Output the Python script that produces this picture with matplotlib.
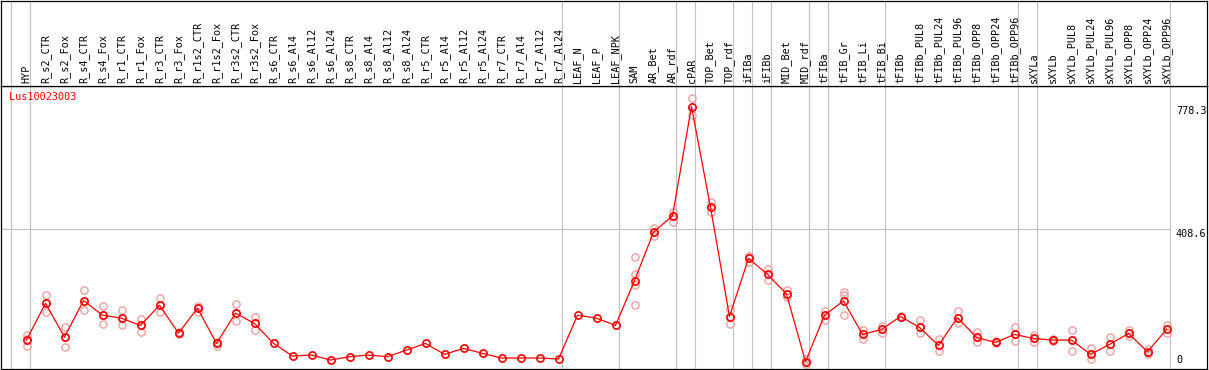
import matplotlib
matplotlib.use("Agg")
import matplotlib.pyplot as plt

# ---------------- data ----------------
categories = ["HYP", "R_s2_CTR", "R_s2_Fox", "R_s4_CTR", "R_s4_Fox", "R_r1_CTR", "R_r1_Fox",
              "R_r3_CTR", "R_r3_Fox", "R_r1s2_CTR", "R_r1s2_Fox", "R_r3s2_CTR", "R_r3s2_Fox",
              "R_s6_CTR", "R_s6_Al4", "R_s6_Al12", "R_s6_Al24", "R_s8_CTR", "R_s8_Al4",
              "R_s8_Al12", "R_s8_Al24", "R_r5_CTR", "R_r5_Al4", "R_r5_Al12", "R_r5_Al24",
              "R_r7_CTR", "R_r7_Al4", "R_r7_Al12", "R_r7_Al24", "LEAF_N", "LEAF_P", "LEAF_NPK",
              "SAM", "AR_Bet", "AR_rdf", "cPAR", "TOP_Bet", "TOP_rdf", "iFIBa", "iFIBb",
              "MID_Bet", "MID_rdf", "tFIBa", "tFIB_Gr", "tFIB_Li", "tFIB_Bi", "tFIBb",
              "tFIBb_PUL8", "tFIBb_PUL24", "tFIBb_PUL96", "tFIBb_OPP8", "tFIBb_OPP24",
              "tFIBb_OPP96", "sXYLa", "sXYLb", "sXYLb_PUL8", "sXYLb_PUL24", "sXYLb_PUL96",
              "sXYLb_OPP8", "sXYLb_OPP24", "sXYLb_OPP96"]

means = [75, 186, 84, 194, 150, 141, 119, 180, 96, 171, 65, 156, 125,
         65, 27, 30, 15, 25, 30, 25, 45,
         65, 32, 50, 35, 21, 21, 21, 18,
         150, 141, 119,
         254, 400, 449, 778.3, 475, 146,
         321, 273, 214, 10,
         150, 193, 92, 107, 146, 113, 59, 143, 83, 68, 92,
         80, 75, 75, 32, 62, 95, 40, 107]

replicates = [[90, 78, 57], [211, 186, 161], [113, 83, 55], [226, 194, 167], [178, 150, 122],
              [166, 141, 119], [139, 119, 98], [202, 180, 159], [98, 96, 94], [178, 171, 161],
              [70, 65, 57], [184, 156, 131], [146, 125, 104],
              [], [], [], [], [], [], [], [], [], [], [], [], [], [], [], [], [], [], [],
              [324, 274, 241, 181], [412, 400, 388], [461, 449, 432], [803, 778, 754],
              [491, 475, 462], [169, 146, 122], [328, 321, 311], [289, 273, 256],
              [226, 214, 204], [17, 10, 3], [164, 150, 136], [221, 211, 150],
              [105, 92, 79], [117, 107, 97], [148, 146, 144], [136, 113, 95], [77, 59, 43],
              [163, 143, 125], [99, 83, 68], [71, 68, 66], [113, 92, 71], [90, 80, 68],
              [77, 75, 73], [105, 75, 43], [50, 32, 17], [83, 62, 41], [105, 95, 87],
              [47, 40, 34], [120, 107, 97]]

group_starts = [0, 1, 29, 32, 35, 36, 38, 39, 40, 42, 43, 46, 53, 54, 61]
y_ticks = [0, 408.6, 778.3]
gene_id = "Lus10023003"

# ---------------- layout (pixel geometry) ----------------
W, H = 1209, 370
px_left, px_right = 1, 1207
px_header_top, px_header_bot, px_bottom = 0.5, 86, 369
col_px0, col_step = 26.5, 19.0          # pixel of column 0, step between columns
y0_px, ymax_px = 365.0, 106.5           # pixel rows of value 0 and value max(y_ticks)
line_offset = (11 - col_px0) / col_step  # gray separator offset relative to column

def px_to_x(p):
    return (p - col_px0) / col_step

unit = (y0_px - ymax_px) / max(y_ticks)  # px per unit
def py_to_v(p):
    return (y0_px - p) / unit

fig = plt.figure(figsize=(W / 100, H / 100), dpi=100)
fig.patch.set_facecolor("white")

ax = fig.add_axes([px_left / W, (H - px_bottom) / H,
                   (px_right - px_left) / W, (px_bottom - px_header_bot) / H])
hx = fig.add_axes([px_left / W, (H - px_header_bot) / H,
                   (px_right - px_left) / W, (px_header_bot - px_header_top) / H], sharex=ax)

xlim = (px_to_x(px_left), px_to_x(px_right))
ax.set_xlim(*xlim)
ax.set_ylim(py_to_v(px_bottom), py_to_v(px_header_bot))
hx.set_ylim(0, 1)

for a in (ax, hx):
    a.set_xticks([])
    a.set_yticks([])
    for s in a.spines.values():
        s.set_linewidth(0.9)
        s.set_color("black")

grid_c = "#c0c0c0"
sep_x = [g + line_offset for g in group_starts]
for a in (ax, hx):
    for xs in sep_x:
        a.axvline(xs, color=grid_c, lw=0.8, zorder=1)

# horizontal gridline (only mid tick), up to last separator
for v in y_ticks[1:-1]:
    ax.plot([xlim[0], sep_x[-1]], [v, v], color=grid_c, lw=0.8, zorder=1)

xs = list(range(len(categories)))

# replicates
rep_x, rep_y = [], []
for i, reps in enumerate(replicates):
    for r in reps:
        rep_x.append(i)
        rep_y.append(r)
ax.plot(rep_x, rep_y, linestyle="none", marker="o", markersize=5.2, markerfacecolor="none",
        markeredgecolor="#f0a0a0", markeredgewidth=1.0, zorder=2)

# mean line
ax.plot(xs, means, color="#ff0000", lw=0.9, marker="o", markersize=5.2,
        markerfacecolor="none", markeredgecolor="#ff0000", markeredgewidth=1.2, zorder=3)

mono = "DejaVu Sans Mono"
# y tick labels on right
lab_x = px_to_x(1176)
for v in y_ticks:
    ax.text(lab_x, v, f"{v:g}" if v else "0", fontsize=7.3, family=mono, color="black",
            ha="left", va="bottom" if v == 0 else "top", clip_on=True)

# gene id
ax.text(px_to_x(9), py_to_v(92.5), gene_id, fontsize=7.3, family=mono, color="#ff0000",
        ha="left", va="top")

# header labels
for i, c in enumerate(categories):
    hx.text(i, 0.035, c, rotation=90, fontsize=7.3, family=mono, ha="center", va="bottom",
            color="black")

fig.savefig("out.png", dpi=100)
